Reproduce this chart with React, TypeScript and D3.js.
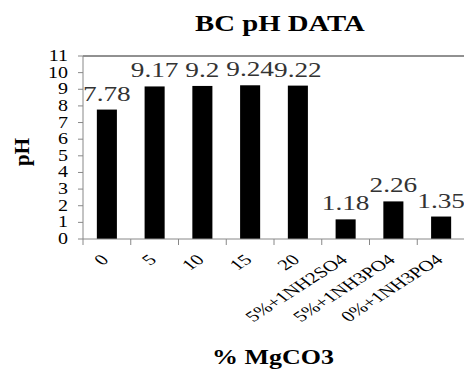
import React, {useEffect, useRef} from 'react'
import * as d3 from 'd3'

// BC pH 柱状图
const categories = ['0', '5', '10', '15', '20', '5%+1NH2SO4', '5%+1NH3PO4', '0%+1NH3PO4']
const phValues = [7.78, 9.17, 9.2, 9.24, 9.22, 1.18, 2.26, 1.35]
const yTicks = [0, 1, 2, 3, 4, 5, 6, 7, 8, 9, 10, 11]

const W = 464
const H = 384
const FONT = "'Liberation Serif', 'Times New Roman', Times, serif"

const App = () => {
  const ref = useRef<SVGSVGElement>(null)

  useEffect(() => {
    const svg = d3.select(ref.current)
    svg.selectAll('*').remove()
    svg.style('font-family', FONT)

    const left = 83, right = 465, top = 56, bottom = 239

    const x = d3.scaleBand<string>()
      .domain(categories)
      .range([left, right])
      .paddingInner(0.58)
      .paddingOuter(0.29)
    const step = x.step()

    const y = d3.scaleLinear().domain([0, 11]).range([bottom, top])

    // 标题
    svg.append('text')
      .attr('transform', `translate(280,31) scale(1.25,1)`)
      .attr('text-anchor', 'middle')
      .attr('font-weight', 'bold')
      .attr('font-size', 23)
      .text('BC pH DATA')

    // 上边框
    svg.append('line')
      .attr('x1', left).attr('x2', right)
      .attr('y1', y(11)).attr('y2', y(11))
      .attr('stroke', '#222').attr('stroke-width', 1)

    // 柱子
    svg.append('g')
      .selectAll('rect')
      .data(phValues)
      .join('rect')
      .attr('x', (d, i) => x(categories[i])!)
      .attr('y', d => y(d))
      .attr('width', x.bandwidth())
      .attr('height', d => bottom - y(d))
      .attr('fill', '#000')

    // 数值标签
    svg.append('g')
      .selectAll('text')
      .data(phValues)
      .join('text')
      .attr('transform', (d, i) =>
        `translate(${x(categories[i])! + x.bandwidth() / 2},${y(d) - 9}) scale(1.3,1)`)
      .attr('text-anchor', 'middle')
      .attr('font-size', 21)
      .attr('fill', '#333')
      .text(d => String(d))

    // y轴
    const yAxis = svg.append('g')
    yAxis.append('line')
      .attr('x1', left).attr('x2', left)
      .attr('y1', top).attr('y2', bottom)
      .attr('stroke', '#888')
    const yt = yAxis.selectAll('g.tick')
      .data(yTicks)
      .join('g')
      .attr('class', 'tick')
      .attr('transform', d => `translate(0,${y(d)})`)
    yt.append('line')
      .attr('x1', left - 5).attr('x2', left)
      .attr('stroke', '#888')
    yt.append('text')
      .attr('transform', 'translate(68,5) scale(1.25,1)')
      .attr('text-anchor', 'end')
      .attr('font-size', 16)
      .attr('fill', '#000')
      .text(d => d)

    // x轴
    const xAxis = svg.append('g')
    xAxis.append('line')
      .attr('x1', left).attr('x2', right)
      .attr('y1', bottom).attr('y2', bottom)
      .attr('stroke', '#888')
    xAxis.selectAll('line.tick')
      .data(categories)
      .join('line')
      .attr('class', 'tick')
      .attr('x1', d => x(d)! - step * 0.29)
      .attr('x2', d => x(d)! - step * 0.29)
      .attr('y1', bottom).attr('y2', bottom + 6)
      .attr('stroke', '#888')
    xAxis.selectAll('text.xl')
      .data(categories)
      .join('text')
      .attr('class', 'xl')
      .attr('transform', d =>
        `translate(${x(d)! + x.bandwidth() / 2 + 3},261) scale(1.4,1) rotate(-42)`)
      .attr('text-anchor', 'end')
      .attr('font-size', 15)
      .attr('fill', '#000')
      .text(d => d)

    // 轴标题
    svg.append('text')
      .attr('transform', `translate(273,364) scale(1.18,1)`)
      .attr('text-anchor', 'middle')
      .attr('font-weight', 'bold')
      .attr('font-size', 22)
      .text('% MgCO3')

    svg.append('text')
      .attr('transform', 'translate(29,152) rotate(-90)')
      .attr('text-anchor', 'middle')
      .attr('font-weight', 'bold')
      .attr('font-size', 21)
      .text('pH')
  }, [])

  return <svg ref={ref} width={W} height={H}
    style={{position: 'absolute', left: 0, top: 0, background: '#fff'}} />
}

export default App
